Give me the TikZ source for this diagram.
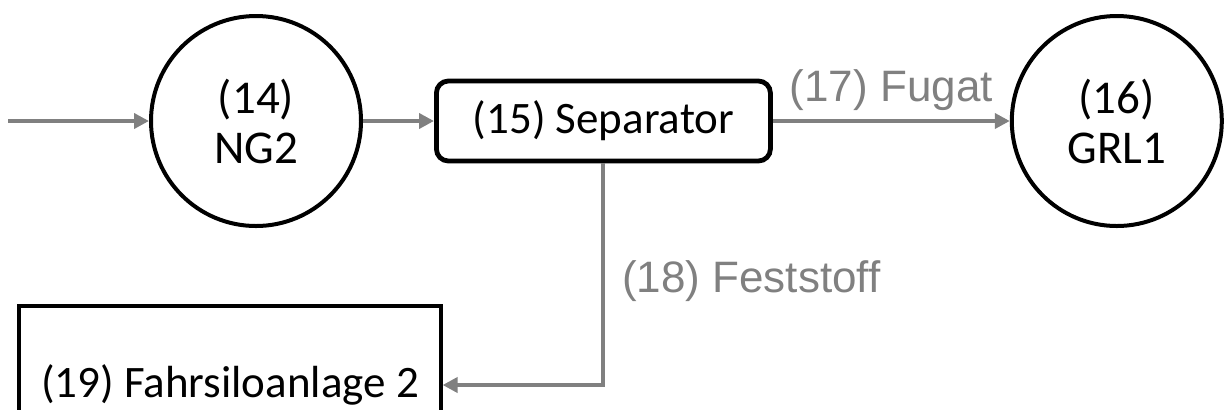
\documentclass[tikz,border=0pt]{standalone}
\usepackage{fontspec}
\setmainfont{Carlito}
\newfontfamily\flowfont{Liberation Sans}
\usetikzlibrary{arrows.meta,positioning}
\definecolor{flowgray}{RGB}{128,128,128}
\tikzset{
  unit/.style={draw,circle,line width=2pt,minimum size=105pt,inner sep=0pt,align=center,font=\fontsize{23.5}{25}\selectfont},
  sepbox/.style={draw,rectangle,rounded corners=6pt,line width=2.4pt,minimum width=167pt,minimum height=40pt,font=\fontsize{22.5}{25}\selectfont},
  silobox/.style={draw,rectangle,line width=1.6pt,minimum width=211pt,minimum height=79pt,font=\fontsize{22.5}{25}\selectfont},
  flow/.style={draw=flowgray,line width=2pt,-{Triangle[length=7.5pt,width=7.5pt]}},
  flowlabel/.style={text=flowgray,font=\flowfont\fontsize{22}{26}\selectfont}
}

\begin{document}
\begin{tikzpicture}[x=0.5pt,y=-0.5pt]
  \useasboundingbox (0,0) rectangle (1224,409);
  \node[unit] (ng2) at (256,121) {(14)\\NG2};
  \node[sepbox,right = 35.5pt of ng2] (sep) {(15) Separator};
  \node[unit,right = 118.5pt of sep] (grl1) {(16)\\GRL1};
  \node[silobox] (silo) at (230,385) {(19) Fahrsiloanlage 2};
  \coordinate (src) at (8,121);

  \draw[flow] (src)--(ng2);
  \draw[flow] (ng2)--(sep);
  \draw[flow] (sep)-- node[flowlabel,above,yshift=1pt] (fugat) {(17) Fugat} (grl1);
  \draw[flow] (sep.south) |- node[flowlabel,right,pos=.25,xshift=5pt,yshift=-3.5pt] (feststoff) {(18) Feststoff} (silo);
\end{tikzpicture}
\end{document}
